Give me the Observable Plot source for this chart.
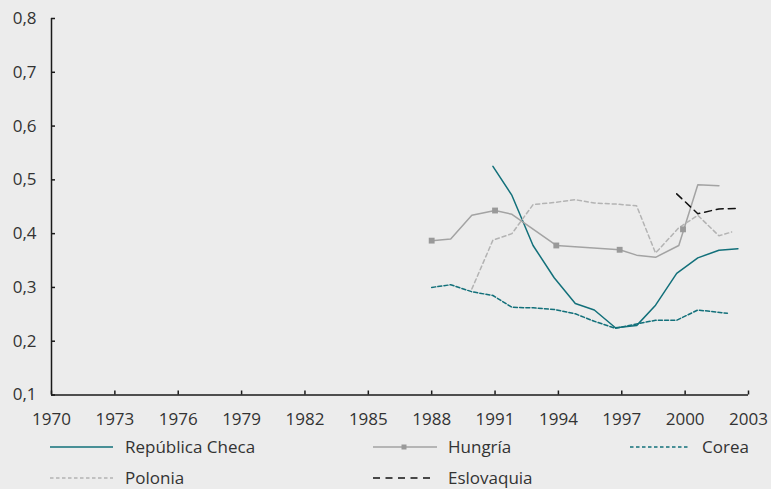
<!DOCTYPE html>
<html>
<head>
<meta charset="utf-8">
<script src="https://cdn.jsdelivr.net/npm/d3@7"></script>
<script src="https://cdn.jsdelivr.net/npm/@observablehq/plot@0.6"></script>
<style>
  html, body { margin: 0; padding: 0; background: #ececec; }
  #chart { position: relative; width: 771px; height: 489px; background: #ececec; font-family: "Open Sans", sans-serif; }
  #legend { position: absolute; left: 0; top: 425px; }
</style>
</head>
<body>
<div id="chart"></div>
<script>
// ---- data ----
const xTicks = [1970, 1973, 1976, 1979, 1982, 1985, 1988, 1991, 1994, 1997, 2000, 2003];
const yTicks = [0.1, 0.2, 0.3, 0.4, 0.5, 0.6, 0.7, 0.8];

const czechYears  = [1990.9, 1991.8, 1992.8, 1993.8, 1994.8, 1995.7, 1996.7, 1997.7, 1998.6, 1999.6, 2000.6, 2001.6, 2002.5];
const czechValues = [0.525, 0.471, 0.378, 0.318, 0.270, 0.258, 0.225, 0.229, 0.267, 0.326, 0.355, 0.369, 0.372];

const hungaryYears  = [1988.0, 1988.9, 1989.9, 1991.0, 1991.8, 1993.9, 1996.9, 1997.7, 1998.6, 1999.7, 2000.6, 2001.6];
const hungaryValues = [0.387, 0.390, 0.434, 0.443, 0.436, 0.378, 0.370, 0.360, 0.356, 0.378, 0.491, 0.489];
const hungaryMarkerYears  = [1988.0, 1991.0, 1993.9, 1996.9, 1999.9];
const hungaryMarkerValues = [0.387, 0.443, 0.378, 0.370, 0.408];

const koreaYears  = [1988.0, 1988.9, 1989.9, 1990.9, 1991.8, 1992.8, 1993.8, 1994.8, 1995.7, 1996.7, 1997.7, 1998.6, 1999.6, 2000.6, 2002.0];
const koreaValues = [0.300, 0.305, 0.292, 0.285, 0.263, 0.262, 0.259, 0.251, 0.237, 0.224, 0.232, 0.239, 0.239, 0.258, 0.252];

const polandYears  = [1989.9, 1990.9, 1991.8, 1992.8, 1993.8, 1994.8, 1995.7, 1996.7, 1997.7, 1998.6, 1999.7, 2000.6, 2001.6, 2002.2];
const polandValues = [0.297, 0.388, 0.400, 0.454, 0.458, 0.463, 0.457, 0.455, 0.452, 0.364, 0.411, 0.434, 0.396, 0.403];

const slovakiaYears  = [1999.6, 2000.6, 2001.6, 2002.5];
const slovakiaValues = [0.474, 0.437, 0.446, 0.447];

// ---- styles ----
const TEAL = "#12707a";
const FONT = "'Open Sans', sans-serif";
const series = [
  {name: "República Checa", years: czechYears, values: czechValues, stroke: TEAL, dash: null, legendDash: null},
  {name: "Hungría", years: hungaryYears, values: hungaryValues, stroke: "#a3a3a3", dash: null, legendDash: null, marker: true},
  {name: "Corea", years: koreaYears, values: koreaValues, stroke: TEAL, dash: "4,2.2", legendDash: "3.5,2.5"},
  {name: "Polonia", years: polandYears, values: polandValues, stroke: "#b3b3b3", dash: "4,3", legendDash: "3.5,2.5"},
  {name: "Eslovaquia", years: slovakiaYears, values: slovakiaValues, stroke: "#111", dash: "7,5", legendDash: "7,5.5"}
];

const toRows = s => s.years.map((y, i) => ({series: s.name, year: y, value: s.values[i]}));
const markerRows = hungaryMarkerYears.map((y, i) => ({year: y, value: hungaryMarkerValues[i]}));
const fmt = d => d.toFixed(1).replace(".", ",");

const lineMarks = series.map(s => Plot.line(toRows(s), {
  x: "year", y: "value", stroke: s.stroke, strokeWidth: 1.5,
  strokeDasharray: s.dash ?? undefined, curve: "linear"
}));

const plot = Plot.plot({
  width: 771,
  height: 425,
  marginLeft: 51,
  marginRight: 23,
  marginTop: 18,
  marginBottom: 30.5,
  style: {background: "#ececec", fontFamily: FONT, fontSize: "17px", color: "#333", overflow: "visible"},
  x: {domain: [1970, 2003]},
  y: {domain: [0.1, 0.8]},
  marks: [
    Plot.axisY({ticks: yTicks, tickFormat: fmt, tickSize: -4, tickPadding: 19, label: null, stroke: "#1a1a1a", strokeWidth: 1.5, fill: "#333"}),
    Plot.axisX({ticks: xTicks, tickFormat: d => String(d), tickSize: -4, tickPadding: 22, label: null, stroke: "#1a1a1a", strokeWidth: 1.5, fill: "#333"}),
    ...lineMarks,
    Plot.dot(markerRows, {x: "year", y: "value", symbol: "square", r: 3.3, fill: "#999", stroke: "none"}),
    Plot.ruleX([1970], {stroke: "#1a1a1a", strokeWidth: 1.5}),
    Plot.ruleY([0.1], {stroke: "#1a1a1a", strokeWidth: 1.5})
  ]
});

const chart = document.getElementById("chart");
chart.appendChild(plot);

// ---- legend (below the plot) ----
const legendPos = [
  {x1: 50, x2: 113, tx: 125, y: 22},
  {x1: 373, x2: 437, tx: 448, y: 22},
  {x1: 630, x2: 690, tx: 702, y: 22},
  {x1: 50, x2: 113, tx: 125, y: 53},
  {x1: 373, x2: 434, tx: 448, y: 53}
];
const lg = d3.create("svg").attr("id", "legend").attr("width", 771).attr("height", 64)
  .style("font-family", FONT).style("font-size", "17px");
series.forEach((s, i) => {
  const p = legendPos[i];
  lg.append("line").attr("x1", p.x1).attr("x2", p.x2).attr("y1", p.y).attr("y2", p.y)
    .attr("stroke", s.stroke).attr("stroke-width", s.dash ? 1.3 : 1.5)
    .attr("stroke-dasharray", s.legendDash);
  if (s.marker) {
    const mx = (p.x1 + p.x2) / 2 - 1;
    lg.append("rect").attr("x", mx - 2.5).attr("y", p.y - 2.5).attr("width", 5).attr("height", 5).attr("fill", "#999");
  }
  lg.append("text").attr("x", p.tx).attr("y", p.y).attr("dy", "0.35em").attr("fill", "#333").text(s.name);
});
chart.appendChild(lg.node());
</script>
</body>
</html>
